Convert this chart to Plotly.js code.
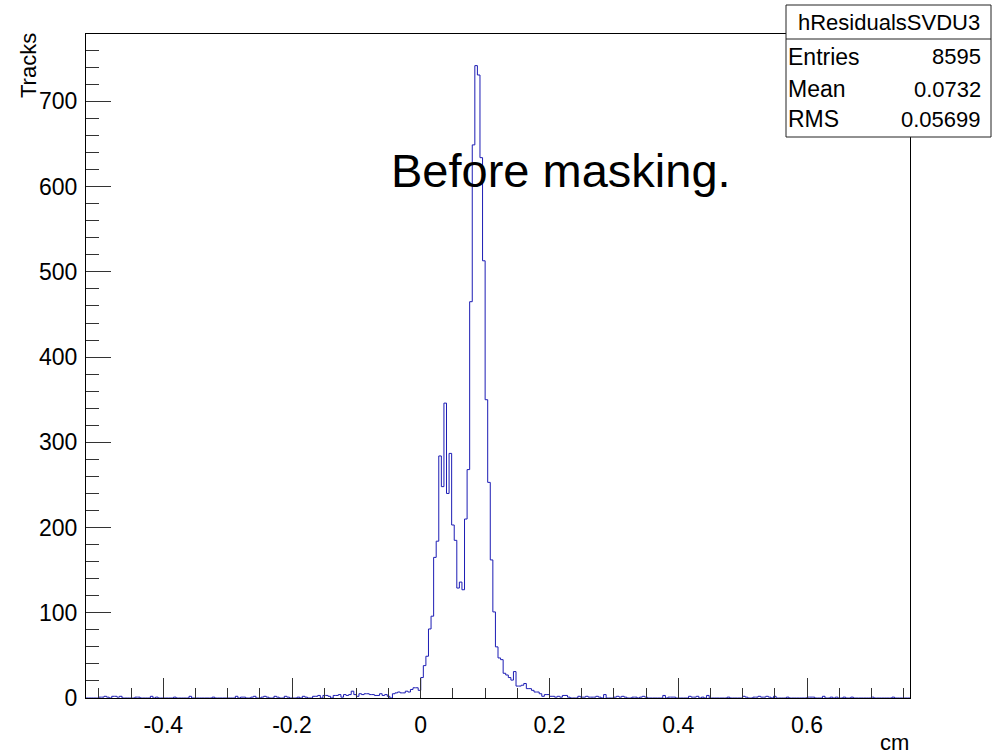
<!DOCTYPE html>
<html>
<head>
<meta charset="utf-8">
<script src="https://cdn.plot.ly/plotly-3.0.1.min.js"></script>
<style>
  html, body { margin: 0; padding: 0; background: #fff; }
  #chart { width: 997px; height: 755px; }
</style>
</head>
<body>
<div id="chart"></div>
<script>
// ---- Data ----
const histName = 'hResidualsSVDU3';
const binning = [-0.52, 0.76, 320];          // xMin, xMax, nBins
// counts, bins 0..129
const countsLeft = [
  0,0,0,0,0,1,1,2,1,0,2,2,1,2,0,0,0,0,0,1,
  1,0,0,0,0,2,0,1,0,0,0,0,0,0,1,0,0,0,0,0,
  2,0,0,0,0,0,0,0,0,1,0,0,0,0,0,0,0,0,2,0,
  1,1,0,0,1,2,0,0,1,2,1,0,0,2,1,0,0,2,1,0,
  0,0,1,0,2,1,0,0,2,2,3,0,3,3,2,0,3,3,4,1,
  4,3,4,8,4,2,5,4,5,5,4,4,3,3,5,3,4,2,0,5,
  6,7,6,6,8,7,10,12,12,9
];
// counts, bins 130..179
const countsPeak = [
  24,38,49,81,96,165,184,284,248,346,
  240,287,203,185,129,136,127,210,268,465,
  649,742,731,634,513,350,253,162,101,60,
  47,45,29,27,24,21,31,14,14,15,
  17,11,11,9,7,7,5,2,4,4
];
// counts, bins 180..319
const countsRight = [
  2,2,1,2,1,3,3,1,0,0,0,2,1,1,2,1,1,1,2,1,
  0,4,0,0,0,1,2,1,2,1,0,0,1,1,0,1,2,1,0,0,
  0,0,0,0,3,0,1,1,1,0,0,0,0,0,2,1,1,2,0,1,
  0,3,0,0,0,0,0,0,0,1,0,0,0,0,0,2,1,0,0,1,
  1,2,1,1,2,1,0,2,0,0,0,0,1,0,0,0,0,0,0,0,
  1,1,1,0,0,0,2,0,0,1,0,1,0,0,1,0,0,1,0,0,
  0,0,0,0,0,1,0,0,0,0,0,0,0,1,0,0,0,0,0,0
];
const xTickLabels = ['-0.4', '-0.2', '0', '0.2', '0.4', '0.6'];
const statLabels = ['Entries', 'Mean', 'RMS'];
const statValues = ['8595', '0.0732', '0.05699'];
const xTitle = 'cm';
const yTitle = 'Tracks';
const note = 'Before masking.';

// ---- Build histogram outline ----
const counts = countsLeft.concat(countsPeak, countsRight);
const [xMin, xMax, nBins] = binning;
const bw = (xMax - xMin) / nBins;
const edges = [], ys = [];
for (let i = 0; i < counts.length; i++) { edges.push(xMin + i * bw); ys.push(counts[i]); }
edges.push(xMin + counts.length * bw); ys.push(counts[counts.length - 1]);

const yMax = Math.max(...counts) * 1.05;

// ---- Layout geometry (pixels) ----
const W = 997, H = 755;
const mL = 86, mR = 87, mT = 34, mB = 57;
const pw = W - mL - mR, ph = H - mT - mB;
const PX = p => (p - mL) / pw;
const PY = p => (H - mB - p) / ph;

const FONT = '"Liberation Sans", Arial, Helvetica, sans-serif';
const lineCol = '#000000';

const trace = {
  type: 'scatter', mode: 'lines',
  x: edges, y: ys,
  line: { shape: 'hv', color: '#1c1cb4', width: 1 },
  hoverinfo: 'skip', showlegend: false
};

const box = { x0: 786, x1: 991, y0: 5, y1: 137, sep: 39 };

const shapes = [
  { type: 'rect', xref: 'paper', yref: 'paper',
    x0: PX(box.x0), x1: PX(box.x1), y0: PY(box.y1), y1: PY(box.y0),
    fillcolor: '#ffffff', line: { color: '#222', width: 1 }, layer: 'above' },
  { type: 'line', xref: 'paper', yref: 'paper',
    x0: PX(box.x0), x1: PX(box.x1), y0: PY(box.sep), y1: PY(box.sep),
    line: { color: '#222', width: 1 }, layer: 'above' }
];

const annotations = [
  { text: histName, xref: 'paper', yref: 'paper', x: PX((box.x0 + box.x1) / 2), y: PY(22),
    xanchor: 'center', yanchor: 'middle', showarrow: false,
    font: { family: FONT, size: 22, color: '#000' } },
  { text: note, xref: 'paper', yref: 'paper', x: PX(389), y: PY(170),
    xanchor: 'left', yanchor: 'middle', showarrow: false,
    font: { family: FONT, size: 47, color: '#000' } },
  { text: yTitle, xref: 'paper', yref: 'paper', x: PX(28), y: PY(66),
    xanchor: 'center', yanchor: 'middle', textangle: -90, showarrow: false,
    font: { family: FONT, size: 22, color: '#000' } },
  { text: xTitle, xref: 'paper', yref: 'paper', x: PX(911), y: PY(742),
    xanchor: 'right', yanchor: 'middle', showarrow: false,
    font: { family: FONT, size: 22, color: '#000' } }
];
const rowY = [57, 89, 119];
statLabels.forEach((lab, i) => {
  annotations.push({ text: lab, xref: 'paper', yref: 'paper', x: PX(786), y: PY(rowY[i]),
    xanchor: 'left', yanchor: 'middle', showarrow: false,
    font: { family: FONT, size: 23, color: '#000' } });
  annotations.push({ text: statValues[i], xref: 'paper', yref: 'paper', x: PX(983), y: PY(rowY[i]),
    xanchor: 'right', yanchor: 'middle', showarrow: false,
    font: { family: FONT, size: 22, color: '#000' } });
});

const layout = {
  width: W, height: H,
  margin: { l: mL, r: mR, t: mT, b: mB, pad: 0 },
  paper_bgcolor: '#ffffff', plot_bgcolor: '#ffffff',
  showlegend: false,
  xaxis: {
    range: [xMin, xMax], showgrid: false, zeroline: false,
    showline: true, mirror: true, linecolor: lineCol, linewidth: 1,
    tickmode: 'array', tickvals: xTickLabels.map(Number), ticktext: xTickLabels,
    ticks: 'inside', ticklen: 20, tickwidth: 1, tickcolor: '#333',
    minor: { tickmode: 'linear', tick0: 0, dtick: 0.05, ticks: 'inside', ticklen: 10, tickwidth: 1, tickcolor: '#333' },
    tickfont: { family: FONT, size: 23, color: '#000' },
    ticklabelstandoff: 6
  },
  yaxis: {
    range: [0, yMax], showgrid: false, zeroline: false,
    showline: true, mirror: true, linecolor: lineCol, linewidth: 1,
    tickmode: 'linear', tick0: 0, dtick: 100,
    ticks: 'inside', ticklen: 25, tickwidth: 1, tickcolor: '#333',
    minor: { tickmode: 'linear', tick0: 0, dtick: 20, ticks: 'inside', ticklen: 12.5, tickwidth: 1, tickcolor: '#333' },
    tickfont: { family: FONT, size: 23, color: '#000' },
    ticklabelstandoff: 3
  },
  shapes: shapes,
  annotations: annotations
};

Plotly.newPlot('chart', [trace], layout, { displayModeBar: false, staticPlot: true });
</script>
</body>
</html>
